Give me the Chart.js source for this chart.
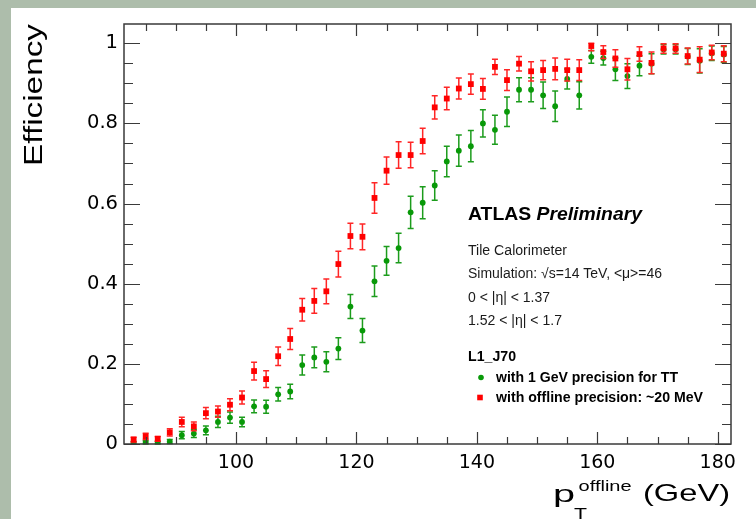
<!DOCTYPE html>
<html><head><meta charset="utf-8">
<script src="https://cdn.jsdelivr.net/npm/chart.js@4.4.1/dist/chart.umd.min.js"></script>
<style>
html,body{margin:0;padding:0;}
body{width:756px;height:519px;overflow:hidden;background:#adbdab;position:relative;}
#sheet{position:absolute;left:11px;top:8px;right:0;bottom:0;background:#ffffff;}
#c{position:absolute;left:0;top:0;}
</style></head><body>
<div id="sheet"></div>
<canvas id="c" width="756" height="519"></canvas>
<script>
// ---- data ----
const ptCenters = [83,85,87,89,91,93,95,97,99,101,103,105,107,109,111,113,115,117,119,121,123,125,127,129,131,133,135,137,139,141,143,145,147,149,151,153,155,157,159,161,163,165,167,169,171,173,175,177,179,181];
const effOffline = [0.011,0.019,0.013,0.029,0.055,0.044,0.077,0.081,0.098,0.116,0.182,0.162,0.219,0.262,0.335,0.357,0.381,0.449,0.519,0.517,0.614,0.682,0.721,0.721,0.756,0.840,0.862,0.887,0.898,0.886,0.941,0.908,0.949,0.930,0.933,0.936,0.933,0.933,0.993,0.978,0.962,0.935,0.973,0.951,0.987,0.987,0.968,0.959,0.977,0.974];
const errOffline = [0.006,0.008,0.006,0.009,0.012,0.011,0.014,0.014,0.015,0.016,0.022,0.021,0.023,0.026,0.028,0.031,0.031,0.032,0.032,0.032,0.038,0.034,0.033,0.032,0.032,0.029,0.028,0.026,0.025,0.026,0.019,0.026,0.018,0.024,0.024,0.027,0.027,0.026,0.012,0.016,0.022,0.027,0.018,0.027,0.012,0.012,0.020,0.032,0.018,0.020];
const effTT = [0.003,0.004,0.003,0.006,0.022,0.026,0.034,0.055,0.066,0.055,0.094,0.093,0.124,0.131,0.197,0.216,0.205,0.238,0.343,0.283,0.406,0.457,0.489,0.578,0.602,0.645,0.705,0.732,0.743,0.800,0.784,0.829,0.884,0.884,0.870,0.843,0.911,0.870,0.966,0.963,0.935,0.918,0.944,0.949,0.985,0.985,0.967,0.956,0.975,0.972];
const errTT = [0.003,0.004,0.003,0.005,0.009,0.010,0.011,0.014,0.014,0.012,0.016,0.016,0.017,0.018,0.025,0.026,0.025,0.027,0.030,0.030,0.038,0.036,0.037,0.040,0.040,0.037,0.038,0.039,0.039,0.034,0.036,0.037,0.030,0.030,0.033,0.038,0.025,0.034,0.016,0.017,0.028,0.031,0.025,0.025,0.012,0.012,0.020,0.030,0.018,0.020];
const xTickValues = [100,120,140,160,180];
const xTickLabels = ['100','120','140','160','180'];
const yTickValues = [0,0.2,0.4,0.6,0.8,1.0];
const yTickLabels = ['0','0.2','0.4','0.6','0.8','1'];
const seriesNames = ['with 1 GeV precision for TT','with offline precision: ~20 MeV'];
const triggerName = 'L1_J70';
const infoLines = ['Tile Calorimeter','Simulation: \u221As=14 TeV, <\u03BC>=46','0 < |\u03B7| < 1.37','1.52 < |\u03B7| < 1.7'];
const yTitle = 'Efficiency';

// ---- styles ----
const GREEN = '#089908', RED = '#ff0000';
const GREEN_BAR = '#1c9c1c', RED_BAR = '#ff2626';
const SANS = "'Liberation Sans', Arial, Helvetica, sans-serif";

function fitText(ctx, str, x, y, font, width, alignRight){
  ctx.save();
  ctx.font = font;
  const w = ctx.measureText(str).width;
  const s = width ? width / w : 1;
  ctx.translate(x, y);
  ctx.scale(s, 1);
  ctx.textAlign = 'left';
  ctx.textBaseline = 'alphabetic';
  ctx.fillText(str, alignRight ? -w : 0, 0);
  ctx.restore();
}

const errorBars = {
  id: 'errorBars',
  beforeDatasetDraw(chart, args){
    const ds = chart.data.datasets[args.index];
    if (!ds.errors) return;
    const xs = chart.scales.x, ys = chart.scales.y, ctx = chart.ctx;
    ctx.save();
    ctx.strokeStyle = ds.errColor;
    ctx.lineWidth = 1.5;
    ds.data.forEach((p, i) => {
      const e = ds.errors[i];
      const px = xs.getPixelForValue(p.x);
      const top = ys.getPixelForValue(Math.min(p.y + e, 1));
      const bot = ys.getPixelForValue(Math.max(p.y - e, 0));
      ctx.beginPath();
      ctx.moveTo(px, top); ctx.lineTo(px, bot);
      ctx.moveTo(px - 3, top); ctx.lineTo(px + 3, top);
      ctx.moveTo(px - 3, bot); ctx.lineTo(px + 3, bot);
      ctx.stroke();
    });
    ctx.restore();
  }
};

const frameAndText = {
  id: 'frameAndText',
  afterDraw(chart){
    const ctx = chart.ctx, a = chart.chartArea;
    const xs = chart.scales.x, ys = chart.scales.y;
    ctx.save();
    ctx.strokeStyle = '#3a3a3a';
    ctx.lineWidth = 1.5;
    ctx.strokeRect(a.left, a.top, a.right - a.left, a.bottom - a.top);
    ctx.lineWidth = 1.2;
    ctx.beginPath();
    for (let v = 85; v <= xs.max; v += 5) {
      const px = Math.round(xs.getPixelForValue(v)) + 0.5;
      const len = (v % 20 === 0) ? 12 : 7;
      ctx.moveTo(px, a.bottom); ctx.lineTo(px, a.bottom - len);
      ctx.moveTo(px, a.top); ctx.lineTo(px, a.top + len);
    }
    for (let k = 0; k <= 20; k++) {
      const v = k * 0.05;
      const py = Math.round(ys.getPixelForValue(v)) + 0.5;
      const len = (k % 4 === 0) ? 16 : 9;
      ctx.moveTo(a.left, py); ctx.lineTo(a.left + len, py);
      ctx.moveTo(a.right, py); ctx.lineTo(a.right - len, py);
    }
    ctx.stroke();

    ctx.fillStyle = '#000';
    ctx.save();
    ctx.translate(42, 24);
    ctx.rotate(-Math.PI / 2);
    ctx.font = '25px ' + SANS;
    const tw = ctx.measureText(yTitle).width;
    ctx.scale(142 / tw, 1);
    ctx.textBaseline = 'alphabetic';
    ctx.fillText(yTitle, -tw, 0);
    ctx.restore();

    fitText(ctx, 'p', 553, 502, '24px ' + SANS, 22);
    fitText(ctx, 'offline', 578.6, 490.7, '15px ' + SANS, 53);
    fitText(ctx, 'T', 574, 520, '16px ' + SANS, 13);
    fitText(ctx, '(GeV)', 643, 501, '24px ' + SANS, 87);

    ctx.save();
    ctx.font = 'bold 19px ' + SANS;
    const w1 = ctx.measureText('ATLAS ').width;
    ctx.font = 'italic bold 19px ' + SANS;
    const w2 = ctx.measureText('Preliminary').width;
    const s = 174 / (w1 + w2);
    ctx.translate(468, 219.5);
    ctx.scale(s, 1);
    ctx.font = 'bold 19px ' + SANS;
    ctx.fillText('ATLAS ', 0, 0);
    ctx.font = 'italic bold 19px ' + SANS;
    ctx.fillText('Preliminary', w1, 0);
    ctx.restore();

    ctx.fillStyle = '#1a1a1a';
    fitText(ctx, infoLines[0], 468, 255, '14px ' + SANS, 99);
    fitText(ctx, infoLines[1], 468, 277.5, '14px ' + SANS, 194);
    fitText(ctx, infoLines[2], 468, 301.5, '14px ' + SANS, 82);
    fitText(ctx, infoLines[3], 468, 324.5, '14px ' + SANS, 94);
    ctx.fillStyle = '#000';
    fitText(ctx, triggerName, 468, 360.7, 'bold 14px ' + SANS, 48);
    fitText(ctx, seriesNames[0], 496, 381.7, 'bold 14px ' + SANS, 182);
    fitText(ctx, seriesNames[1], 496, 402, 'bold 14px ' + SANS, 207);

    ctx.fillStyle = GREEN;
    ctx.beginPath(); ctx.arc(481, 377.5, 2.8, 0, Math.PI * 2); ctx.fill();
    ctx.fillStyle = RED;
    ctx.fillRect(477.2, 394.7, 5.6, 5.6);
    ctx.restore();
  }
};

const toPts = (vals) => vals.map((v, i) => ({x: ptCenters[i], y: v}));

new Chart(document.getElementById('c'), {
  type: 'scatter',
  data: {
    datasets: [
      { label: seriesNames[1], data: toPts(effOffline), errors: errOffline, errColor: RED_BAR,
        pointStyle: 'rect', radius: 4.1, backgroundColor: RED, borderColor: RED, borderWidth: 0, order: 0 },
      { label: seriesNames[0], data: toPts(effTT), errors: errTT, errColor: GREEN_BAR,
        pointStyle: 'circle', radius: 2.9, backgroundColor: GREEN, borderColor: GREEN, borderWidth: 0, order: 1 }
    ]
  },
  options: {
    responsive: false,
    animation: false,
    devicePixelRatio: 1,
    layout: { padding: { left: 0, top: 24, right: 25, bottom: 0 } },
    plugins: { legend: { display: false }, tooltip: { enabled: false } },
    scales: {
      x: {
        type: 'linear', min: 81.4, max: 182.2,
        afterFit(s){ s.height = 75; },
        afterBuildTicks(s){ s.ticks = xTickValues.map(v => ({value: v})); },
        grid: { display: false, drawTicks: false }, border: { display: false },
        ticks: { padding: 8, color: '#000', font: { family: '"DejaVu Sans"', size: 19 },
                 callback: (v) => xTickLabels[xTickValues.indexOf(v)] }
      },
      y: {
        type: 'linear', min: 0, max: 1.048,
        afterFit(s){ s.width = 124; },
        afterBuildTicks(s){ s.ticks = yTickValues.map(v => ({value: v})); },
        grid: { display: false, drawTicks: false }, border: { display: false },
        ticks: { padding: 6, color: '#000', font: { family: '"DejaVu Sans"', size: 19.5 },
                 callback: (v) => yTickLabels[yTickValues.indexOf(v)] }
      }
    }
  },
  plugins: [errorBars, frameAndText]
});
</script>
</body></html>
